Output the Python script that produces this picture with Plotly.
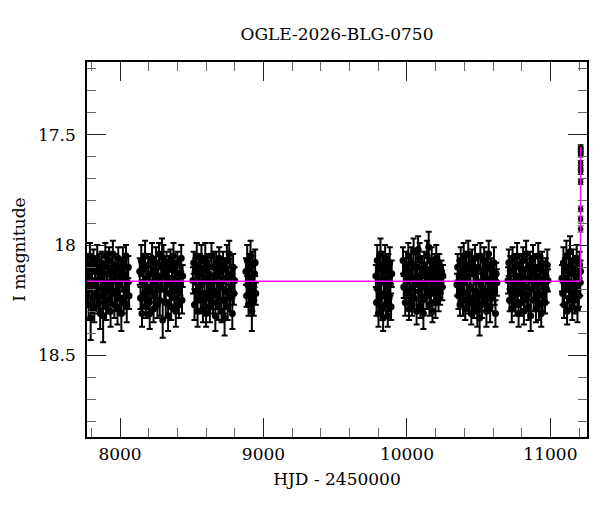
import plotly.graph_objects as go

# light curve, I band, HJD - 2450000
s1_t = [7772.4, 7776.1, 7781.3, 7785.8, 7790.2, 7795.6, 7800.3, 7805.9, 7810.4, 7815.2,
        7820.7, 7826.1, 7830.5, 7835.8, 7841.2, 7846.0, 7851.6, 7856.3, 7861.9, 7866.4,
        7871.8, 7877.2, 7882.5, 7887.1, 7892.6, 7897.9, 7903.3, 7908.0, 7913.4, 7918.8,
        7924.1, 7929.5, 7934.2, 7939.7, 7945.0, 7950.3, 7955.8, 7961.1, 7966.4, 7971.9,
        7977.2, 7982.6, 7987.9, 7993.3, 7998.6, 8004.0, 8009.4, 8014.7, 8020.1, 8025.5,
        8030.8, 8036.2, 8041.6, 8047.0, 8052.3, 8057.7, 8063.1]
s1_m = [18.21, 18.09, 18.27, 18.14, 18.05, 18.33, 18.18, 18.11, 18.24, 18.07,
        18.29, 18.16, 18.12, 18.22, 18.06, 18.19, 18.26, 18.10, 18.31, 18.15,
        18.08, 18.23, 18.32, 18.13, 18.20, 18.05, 18.28, 18.17, 18.10, 18.25,
        18.07, 18.19, 18.30, 18.12, 18.22, 18.04, 18.16, 18.27, 18.09, 18.21,
        18.14, 18.29, 18.06, 18.18, 18.24, 18.11, 18.31, 18.15, 18.08, 18.26,
        18.13, 18.20, 18.05, 18.28, 18.17, 18.10, 18.23]
s1_e = [0.06, 0.05, 0.07, 0.06, 0.06, 0.10, 0.05, 0.06, 0.07, 0.05,
        0.06, 0.07, 0.05, 0.06, 0.06, 0.08, 0.05, 0.06, 0.07, 0.06,
        0.05, 0.06, 0.12, 0.05, 0.07, 0.06, 0.06, 0.05, 0.07, 0.06,
        0.06, 0.05, 0.07, 0.06, 0.05, 0.06, 0.07, 0.06, 0.05, 0.06,
        0.06, 0.07, 0.05, 0.06, 0.06, 0.05, 0.08, 0.06, 0.07, 0.05,
        0.06, 0.06, 0.05, 0.07, 0.06, 0.05, 0.06]

s2_t = [8137.6, 8142.9, 8148.3, 8153.5, 8158.8, 8164.2, 8169.7, 8174.9, 8180.4, 8185.6,
        8191.1, 8196.5, 8201.8, 8207.2, 8212.5, 8217.9, 8223.4, 8228.6, 8234.1, 8239.5,
        8244.8, 8250.2, 8255.7, 8261.0, 8266.3, 8271.8, 8277.1, 8282.5, 8287.9, 8293.2,
        8297.6, 8302.9, 8308.4, 8313.7, 8319.1, 8324.5, 8329.8, 8335.3, 8340.6, 8346.0,
        8351.4, 8356.7, 8362.2, 8367.5, 8372.9, 8378.3, 8383.6, 8389.1, 8394.4, 8399.8,
        8405.2, 8410.5, 8416.0, 8421.3, 8426.7, 8432.1, 8436.8]
s2_m = [18.12, 18.24, 18.07, 18.31, 18.17, 18.10, 18.22, 18.05, 18.28, 18.15,
        18.19, 18.09, 18.26, 18.31, 18.13, 18.21, 18.06, 18.18, 18.29, 18.11,
        18.23, 18.08, 18.16, 18.27, 18.14, 18.04, 18.25, 18.19, 18.10, 18.09,
        18.34, 18.06, 18.20, 18.13, 18.26, 18.09, 18.17, 18.32, 18.11, 18.22,
        18.07, 18.28, 18.15, 18.19, 18.05, 18.24, 18.12, 18.30, 18.16, 18.08,
        18.21, 18.27, 18.13, 18.18, 18.06, 18.25, 18.14]
s2_e = [0.06, 0.05, 0.07, 0.06, 0.05, 0.06, 0.06, 0.07, 0.05, 0.06,
        0.06, 0.05, 0.06, 0.07, 0.06, 0.05, 0.07, 0.06, 0.06, 0.05,
        0.06, 0.07, 0.05, 0.06, 0.06, 0.05, 0.07, 0.06, 0.05, 0.12,
        0.08, 0.06, 0.05, 0.06, 0.07, 0.06, 0.05, 0.07, 0.06, 0.06,
        0.05, 0.06, 0.07, 0.05, 0.06, 0.06, 0.05, 0.07, 0.06, 0.05,
        0.06, 0.06, 0.07, 0.05, 0.06, 0.06, 0.05]

s3_t = [8508.3, 8513.7, 8519.0, 8524.4, 8529.9, 8535.2, 8540.6, 8546.1, 8551.4, 8556.8,
        8562.2, 8567.5, 8573.0, 8578.3, 8583.7, 8589.1, 8594.4, 8599.9, 8605.3, 8610.6,
        8616.0, 8621.4, 8626.8, 8632.1, 8637.6, 8642.9, 8648.3, 8653.7, 8659.0, 8664.5,
        8669.8, 8675.2, 8680.7, 8686.0, 8691.4, 8696.8, 8702.1, 8707.6, 8712.9, 8718.3,
        8723.7, 8729.0, 8734.5, 8739.8, 8745.2, 8750.6, 8755.9, 8761.4, 8766.7, 8772.1,
        8777.5, 8782.8, 8788.3, 8793.6, 8799.0]
s3_m = [18.16, 18.08, 18.27, 18.12, 18.21, 18.05, 18.30, 18.14, 18.19, 18.10,
        18.25, 18.07, 18.17, 18.29, 18.11, 18.22, 18.06, 18.31, 18.15, 18.09,
        18.24, 18.13, 18.28, 18.18, 18.05, 18.20, 18.26, 18.10, 18.16, 18.32,
        18.08, 18.23, 18.14, 18.27, 18.06, 18.19, 18.12, 18.30, 18.17, 18.09,
        18.25, 18.33, 18.11, 18.21, 18.07, 18.28, 18.15, 18.04, 18.24, 18.13,
        18.19, 18.31, 18.10, 18.22, 18.16]
s3_e = [0.06, 0.05, 0.07, 0.06, 0.05, 0.06, 0.07, 0.06, 0.05, 0.06,
        0.06, 0.07, 0.05, 0.06, 0.06, 0.05, 0.07, 0.06, 0.06, 0.05,
        0.06, 0.06, 0.07, 0.05, 0.06, 0.06, 0.05, 0.07, 0.06, 0.07,
        0.05, 0.06, 0.06, 0.07, 0.05, 0.06, 0.06, 0.05, 0.07, 0.06,
        0.06, 0.08, 0.05, 0.06, 0.07, 0.06, 0.05, 0.06, 0.06, 0.07,
        0.05, 0.07, 0.06, 0.05, 0.06]

s4_t = [8877.5, 8882.1, 8886.8, 8891.4, 8895.9, 8900.6, 8905.2, 8909.8, 8914.3, 8918.9,
        8923.6, 8928.2, 8932.7, 8937.4, 8942.0, 8946.5]
s4_m = [18.12, 18.23, 18.07, 18.18, 18.27, 18.10, 18.21, 18.05, 18.15, 18.30,
        18.09, 18.19, 18.25, 18.13, 18.08, 18.22]
s4_e = [0.06, 0.05, 0.07, 0.06, 0.05, 0.06, 0.06, 0.07, 0.05, 0.09,
        0.06, 0.05, 0.07, 0.06, 0.06, 0.05]

s5_t = [9783.4, 9788.0, 9792.7, 9797.3, 9801.8, 9806.5, 9811.1, 9815.6, 9820.3, 9824.9,
        9829.4, 9834.1, 9838.7, 9843.2, 9847.9, 9852.5, 9857.0, 9861.7, 9866.3, 9870.8,
        9875.5, 9880.1, 9884.6, 9889.3, 9893.9]
s5_m = [18.14, 18.26, 18.07, 18.20, 18.31, 18.11, 18.23, 18.04, 18.17, 18.29,
        18.09, 18.33, 18.15, 18.22, 18.06, 18.27, 18.12, 18.19, 18.32, 18.10,
        18.24, 18.08, 18.18, 18.28, 18.13]
s5_e = [0.05, 0.06, 0.07, 0.05, 0.06, 0.06, 0.05, 0.07, 0.06, 0.05,
        0.06, 0.06, 0.07, 0.05, 0.06, 0.06, 0.05, 0.07, 0.05, 0.06,
        0.06, 0.07, 0.05, 0.06, 0.06]

s6_t = [9972.6, 9977.8, 9983.1, 9988.3, 9993.6, 9998.9, 10004.1, 10009.4, 10014.7, 10019.9,
        10025.2, 10030.5, 10035.7, 10041.0, 10046.3, 10051.5, 10056.8, 10062.1, 10067.3, 10072.6,
        10077.9, 10083.1, 10088.4, 10093.7, 10098.9, 10104.2, 10109.5, 10114.7, 10120.0, 10125.3,
        10130.5, 10135.8, 10141.1, 10146.3, 10151.6, 10156.9, 10162.1, 10167.4, 10172.7, 10177.9,
        10183.2, 10188.5, 10193.7, 10199.0, 10204.3, 10209.5, 10214.8, 10220.1, 10225.3, 10230.6,
        10235.9, 10241.1, 10246.4, 10250.7]
s6_m = [18.07, 18.19, 18.13, 18.26, 18.09, 18.22, 18.16, 18.05, 18.29, 18.12,
        18.20, 18.08, 18.27, 18.15, 18.03, 18.24, 18.18, 18.10, 18.30, 18.14,
        18.02, 18.21, 18.06, 18.28, 18.17, 18.11, 18.25, 18.31, 18.09, 18.19,
        18.13, 18.23, 18.05, 18.16, 18.01, 18.27, 18.12, 18.20, 18.08, 18.30,
        18.15, 18.22, 18.10, 18.26, 18.06, 18.18, 18.13, 18.24, 18.09, 18.21,
        18.16, 18.12, 18.19, 18.14]
s6_e = [0.06, 0.05, 0.07, 0.06, 0.06, 0.05, 0.07, 0.06, 0.05, 0.06,
        0.06, 0.07, 0.05, 0.06, 0.06, 0.05, 0.07, 0.06, 0.06, 0.05,
        0.06, 0.06, 0.07, 0.05, 0.06, 0.06, 0.05, 0.07, 0.06, 0.06,
        0.05, 0.06, 0.07, 0.06, 0.07, 0.05, 0.06, 0.06, 0.07, 0.05,
        0.06, 0.05, 0.06, 0.07, 0.06, 0.05, 0.06, 0.06, 0.05, 0.06,
        0.06, 0.05, 0.06, 0.05]

s7_t = [10348.4, 10353.7, 10358.9, 10364.2, 10369.5, 10374.7, 10380.0, 10385.3, 10390.5, 10395.8,
        10401.1, 10406.3, 10411.6, 10416.9, 10422.1, 10427.4, 10432.7, 10437.9, 10443.2, 10448.5,
        10453.7, 10459.0, 10464.3, 10469.5, 10474.8, 10480.1, 10485.3, 10490.6, 10495.9, 10501.1,
        10506.4, 10511.7, 10516.9, 10522.2, 10527.5, 10532.7, 10538.0, 10543.3, 10548.5, 10553.8,
        10559.1, 10564.3, 10569.6, 10574.9, 10580.1, 10585.4, 10590.7, 10595.9, 10601.2, 10606.5,
        10611.7, 10617.0, 10622.3, 10626.9]
s7_m = [18.18, 18.10, 18.23, 18.14, 18.27, 18.07, 18.20, 18.12, 18.25, 18.05,
        18.17, 18.29, 18.09, 18.22, 18.15, 18.04, 18.26, 18.11, 18.19, 18.31,
        18.08, 18.24, 18.13, 18.28, 18.06, 18.21, 18.16, 18.30, 18.10, 18.23,
        18.33, 18.05, 18.18, 18.27, 18.12, 18.20, 18.07, 18.25, 18.15, 18.30,
        18.09, 18.22, 18.04, 18.17, 18.28, 18.11, 18.24, 18.14, 18.19, 18.08,
        18.21, 18.31, 18.13, 18.17]
s7_e = [0.05, 0.06, 0.06, 0.07, 0.05, 0.06, 0.06, 0.05, 0.07, 0.06,
        0.06, 0.05, 0.06, 0.07, 0.06, 0.06, 0.05, 0.07, 0.06, 0.05,
        0.06, 0.06, 0.07, 0.05, 0.06, 0.06, 0.05, 0.07, 0.06, 0.06,
        0.08, 0.06, 0.05, 0.06, 0.07, 0.06, 0.06, 0.05, 0.06, 0.07,
        0.06, 0.05, 0.06, 0.06, 0.07, 0.05, 0.06, 0.06, 0.05, 0.07,
        0.06, 0.06, 0.05, 0.06]

s8_t = [10704.5, 10709.8, 10715.0, 10720.3, 10725.6, 10730.8, 10736.1, 10741.4, 10746.6, 10751.9,
        10757.2, 10762.4, 10767.7, 10773.0, 10778.2, 10783.5, 10788.8, 10794.0, 10799.3, 10804.6,
        10809.8, 10815.1, 10820.4, 10825.6, 10830.9, 10836.2, 10841.4, 10846.7, 10852.0, 10857.2,
        10862.5, 10867.8, 10873.0, 10878.3, 10883.6, 10888.8, 10894.1, 10899.4, 10904.6, 10909.9,
        10915.2, 10920.4, 10925.7, 10931.0, 10936.2, 10941.5, 10946.8, 10952.0, 10957.3, 10962.6,
        10967.8, 10973.1, 10978.4, 10982.8]
s8_m = [18.16, 18.08, 18.25, 18.12, 18.20, 18.29, 18.06, 18.18, 18.23, 18.10,
        18.27, 18.14, 18.05, 18.21, 18.31, 18.09, 18.17, 18.26, 18.12, 18.22,
        18.07, 18.30, 18.15, 18.19, 18.04, 18.24, 18.11, 18.28, 18.16, 18.09,
        18.32, 18.20, 18.13, 18.06, 18.25, 18.18, 18.10, 18.29, 18.14, 18.22,
        18.05, 18.27, 18.17, 18.11, 18.31, 18.08, 18.23, 18.15, 18.19, 18.26,
        18.12, 18.20, 18.09, 18.16]
s8_e = [0.06, 0.06, 0.05, 0.07, 0.06, 0.06, 0.05, 0.06, 0.07, 0.06,
        0.05, 0.06, 0.06, 0.07, 0.06, 0.05, 0.06, 0.06, 0.07, 0.05,
        0.06, 0.06, 0.05, 0.07, 0.06, 0.06, 0.05, 0.06, 0.07, 0.06,
        0.07, 0.05, 0.06, 0.06, 0.05, 0.07, 0.06, 0.06, 0.05, 0.06,
        0.06, 0.07, 0.05, 0.06, 0.06, 0.05, 0.07, 0.06, 0.06, 0.05,
        0.06, 0.06, 0.07, 0.05]

s9_t = [11080.3, 11085.4, 11090.6, 11095.7, 11100.9, 11106.0, 11111.2, 11116.3, 11121.5, 11126.6,
        11131.8, 11136.9, 11142.1, 11147.2, 11152.4, 11157.5, 11162.7, 11167.8, 11173.0, 11178.1,
        11183.3, 11188.4, 11193.6, 11198.7, 11203.9, 11207.5, 11209.6]
s9_m = [18.15, 18.22, 18.08, 18.27, 18.12, 18.19, 18.05, 18.30, 18.16, 18.10,
        18.24, 18.03, 18.21, 18.13, 18.28, 18.07, 18.18, 18.25, 18.11, 18.20,
        18.06, 18.29, 18.14, 18.23, 18.09, 18.17, 18.12]
s9_e = [0.06, 0.05, 0.07, 0.06, 0.06, 0.05, 0.07, 0.06, 0.05, 0.06,
        0.06, 0.07, 0.05, 0.06, 0.06, 0.05, 0.07, 0.06, 0.06, 0.05,
        0.06, 0.06, 0.07, 0.05, 0.06, 0.06, 0.05]

# brightening at the end of the data
peak_t = [11210.6, 11210.7, 11210.8, 11210.8, 11210.9, 11211.0,
          11211.0, 11211.1, 11211.1, 11211.2, 11211.3, 11211.3]
peak_m = [17.927, 17.882, 17.836, 17.714, 17.668, 17.650,
          17.627, 17.590, 17.585, 17.573, 17.565, 17.555]
peak_e = [0.014, 0.013, 0.013, 0.012, 0.012, 0.012,
          0.011, 0.011, 0.011, 0.010, 0.010, 0.010]

# model curve
model_t = [7770.0, 11208.0, 11209.5, 11210.5, 11211.0, 11211.4]
model_m = [18.164, 18.164, 18.13, 17.95, 17.65, 17.555]

hjd = s1_t + s2_t + s3_t + s4_t + s5_t + s6_t + s7_t + s8_t + s9_t
mag = s1_m + s2_m + s3_m + s4_m + s5_m + s6_m + s7_m + s8_m + s9_m
err = s1_e + s2_e + s3_e + s4_e + s5_e + s6_e + s7_e + s8_e + s9_e

FONT = "DejaVu Serif"

fig = go.Figure()
fig.add_trace(go.Scatter(
    x=hjd, y=mag, mode="markers",
    marker=dict(color="black", size=7, line=dict(width=0)),
    error_y=dict(type="data", array=err, visible=True,
                 color="black", thickness=2, width=3),
    showlegend=False, hoverinfo="skip"))
fig.add_trace(go.Scatter(
    x=peak_t, y=peak_m, mode="markers",
    marker=dict(color="black", size=5.5, line=dict(width=0)),
    error_y=dict(type="data", array=peak_e, visible=True,
                 color="#333", thickness=1, width=3),
    showlegend=False, hoverinfo="skip"))
fig.add_trace(go.Scatter(
    x=model_t, y=model_m, mode="lines",
    line=dict(color="#ff00ff", width=1.3),
    showlegend=False, hoverinfo="skip"))

axis_common = dict(
    showline=True, linecolor="black", linewidth=1.5, mirror="ticks",
    ticks="inside", ticklen=19, tickwidth=1, tickcolor="#222",
    showgrid=False, zeroline=False, automargin=False,
    tickfont=dict(family=FONT, size=17, color="black"),
)

fig.update_xaxes(
    range=[7770, 11255], tick0=8000, dtick=1000, tickformat="d",
    minor=dict(dtick=200, ticks="inside", ticklen=9, tickcolor="#666", showgrid=False),
    title=dict(text="HJD - 2450000", font=dict(family=FONT, size=17, color="black"), standoff=10),
    ticklabelstandoff=1,
    **axis_common)
fig.update_yaxes(
    range=[18.87, 17.17], tick0=17.5, dtick=0.5,
    minor=dict(dtick=0.1, ticks="inside", ticklen=9, tickcolor="#666", showgrid=False),
    title=dict(text="I magnitude", font=dict(family=FONT, size=17, color="black"), standoff=8),
    ticklabelstandoff=6,
    **axis_common)

# the page body adds an 8 px margin, so the figure is drawn 8 px smaller
fig.update_layout(
    width=592, height=504,
    margin=dict(l=79, r=13, t=54, b=75, autoexpand=False),
    paper_bgcolor="white", plot_bgcolor="white",
    title=dict(text="OGLE-2026-BLG-0750", x=0.5, xref="paper",
               y=1 - 26 / 504, yref="container", yanchor="middle",
               font=dict(family=FONT, size=17, color="black")),
)

fig.write_html("out.html")
